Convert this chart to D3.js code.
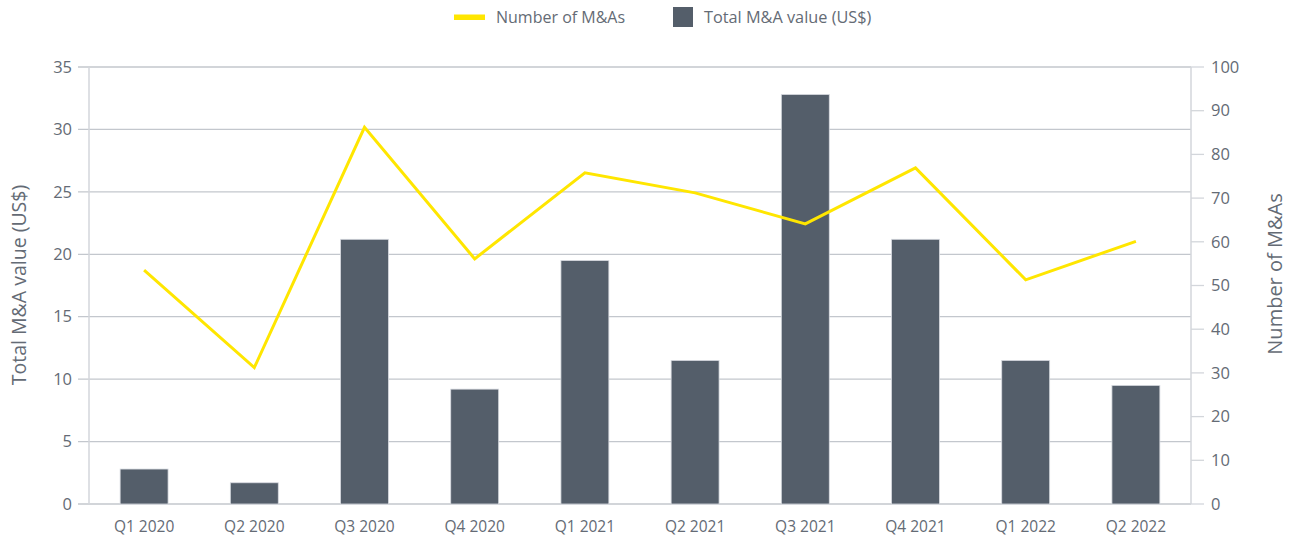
<!DOCTYPE html>
<html>
<head>
<meta charset="utf-8">
<script src="https://cdn.jsdelivr.net/npm/d3@7"></script>
<style>
  body { margin: 0; background: #fff; }
  text { font-family: "Open Sans", "Noto Sans", sans-serif; fill: #646b75; }
</style>
</head>
<body>
<div id="chart"></div>
<script>
const quarters = ["Q1 2020", "Q2 2020", "Q3 2020", "Q4 2020", "Q1 2021", "Q2 2021", "Q3 2021", "Q4 2021", "Q1 2022", "Q2 2022"];
const totalValue = [2.8, 1.7, 21.2, 9.2, 19.5, 11.5, 32.8, 21.2, 11.5, 9.5];
const dealCount = [53.5, 31.2, 86.2, 56.1, 75.8, 71.2, 64.1, 76.9, 51.3, 60.1];
const leftTicks = [0, 5, 10, 15, 20, 25, 30, 35];
const rightTicks = [0, 10, 20, 30, 40, 50, 60, 70, 80, 90, 100];

const width = 1294, height = 537;
const plot = { left: 89, right: 1191, top: 67, bottom: 504 };

const svg = d3.select("#chart").append("svg")
    .attr("width", width)
    .attr("height", height);

const x = d3.scaleBand()
    .domain(quarters)
    .range([plot.left, plot.right])
    .paddingInner(0.565)
    .paddingOuter(0.2825);

const yLeft = d3.scaleLinear().domain([0, 35]).range([plot.bottom, plot.top]);
const yRight = d3.scaleLinear().domain([0, 100]).range([plot.bottom, plot.top]);

// gridlines from the left axis
svg.append("g")
    .selectAll("line")
    .data(leftTicks)
    .enter()
    .append("line")
    .attr("x1", plot.left - 11)
    .attr("x2", plot.right)
    .attr("y1", d => yLeft(d))
    .attr("y2", d => yLeft(d))
    .attr("stroke", "#c3c7cd")
    .attr("stroke-width", 1.3);

// axis lines
svg.append("line")
    .attr("x1", plot.left).attr("x2", plot.left)
    .attr("y1", plot.top).attr("y2", plot.bottom)
    .attr("stroke", "#d3d6db").attr("stroke-width", 1.5);
svg.append("line")
    .attr("x1", plot.right).attr("x2", plot.right)
    .attr("y1", plot.top).attr("y2", plot.bottom)
    .attr("stroke", "#d3d6db").attr("stroke-width", 1.5);

// right tick marks
svg.append("g")
    .selectAll("line")
    .data(rightTicks)
    .enter()
    .append("line")
    .attr("x1", plot.right)
    .attr("x2", plot.right + 13)
    .attr("y1", d => yRight(d))
    .attr("y2", d => yRight(d))
    .attr("stroke", "#d3d6db")
    .attr("stroke-width", 1.3);

// tick labels
svg.append("g")
    .selectAll("text")
    .data(leftTicks)
    .enter()
    .append("text")
    .attr("x", plot.left - 17)
    .attr("y", d => yLeft(d))
    .attr("dy", "0.35em")
    .attr("text-anchor", "end")
    .style("font-size", "16.5px")
    .text(d => d);

svg.append("g")
    .selectAll("text")
    .data(rightTicks)
    .enter()
    .append("text")
    .attr("x", plot.right + 20)
    .attr("y", d => yRight(d))
    .attr("dy", "0.35em")
    .attr("text-anchor", "start")
    .style("font-size", "16.5px")
    .text(d => d);

svg.append("g")
    .selectAll("text")
    .data(quarters)
    .enter()
    .append("text")
    .attr("x", d => x(d) + x.bandwidth() / 2)
    .attr("y", 532)
    .attr("text-anchor", "middle")
    .style("font-size", "15.5px")
    .text(d => d);

// bars
svg.append("g")
    .selectAll("rect")
    .data(quarters)
    .enter()
    .append("rect")
    .attr("x", d => x(d))
    .attr("width", x.bandwidth())
    .attr("y", (d, i) => yLeft(totalValue[i]))
    .attr("height", (d, i) => plot.bottom - yLeft(totalValue[i]))
    .attr("fill", "#545e6a")
    .attr("stroke", "#d7dae0")
    .attr("stroke-width", 0.8);

// line
const line = d3.line()
    .x((d, i) => x(quarters[i]) + x.bandwidth() / 2)
    .y(d => yRight(d));

svg.append("path")
    .datum(dealCount)
    .attr("d", line)
    .attr("fill", "none")
    .attr("stroke", "#ffe600")
    .attr("stroke-width", 3);

// axis titles
svg.append("text")
    .attr("transform", "translate(26,285) rotate(-90)")
    .attr("text-anchor", "middle")
    .style("font-size", "19.5px")
    .text("Total M&A value (US$)");

svg.append("text")
    .attr("transform", "translate(1282,274) rotate(-90)")
    .attr("text-anchor", "middle")
    .style("font-size", "20px")
    .text("Number of M&As");

// legend
const legend = svg.append("g");
legend.append("rect")
    .attr("x", 454).attr("y", 14.5)
    .attr("width", 31).attr("height", 5.5)
    .attr("fill", "#ffe600");
legend.append("text")
    .attr("x", 496).attr("y", 23)
    .style("font-size", "16px")
    .text("Number of M&As");
legend.append("rect")
    .attr("x", 673).attr("y", 7)
    .attr("width", 20).attr("height", 20)
    .attr("fill", "#545e6a");
legend.append("text")
    .attr("x", 704).attr("y", 23)
    .style("font-size", "16.3px")
    .text("Total M&A value (US$)");
</script>
</body>
</html>
